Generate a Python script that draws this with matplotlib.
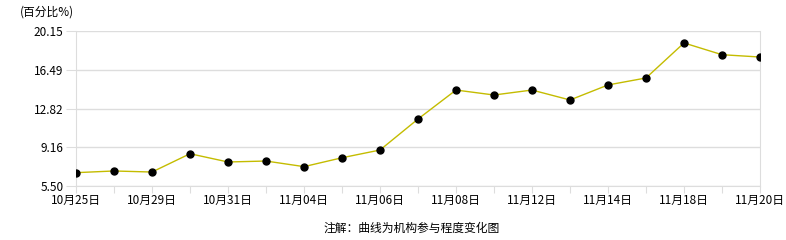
import matplotlib
matplotlib.use("Agg")
import matplotlib.pyplot as plt
import numpy as np

plt.rcParams['font.family'] = ['Noto Sans CJK SC', 'DejaVu Sans']

dates = ["10月25日", "10月28日", "10月29日", "10月30日", "10月31日", "11月01日",
         "11月04日", "11月05日", "11月06日", "11月07日", "11月08日", "11月11日",
         "11月12日", "11月13日", "11月14日", "11月15日", "11月18日", "11月19日",
         "11月20日"]
values = [6.76, 6.92, 6.82, 8.55, 7.77, 7.86, 7.33, 8.17, 8.90, 11.83, 14.57,
          14.10, 14.57, 13.63, 15.05, 15.71, 19.02, 17.91, 17.69]
yticks = [5.50, 9.16, 12.82, 16.49, 20.15]

fig = plt.figure(figsize=(7.86, 2.40), dpi=100)
ax = fig.add_axes([76 / 786, 54 / 240, 684 / 786, 155 / 240])

x = np.arange(len(dates))
ax.plot(x, values, color="#c4bc00", linewidth=1.0, zorder=2)
ax.plot(x, values, "o", color="black", markersize=5, zorder=3)

ax.set_xlim(0, len(dates) - 1)
ax.set_ylim(yticks[0], yticks[-1])
ax.set_yticks(yticks)
ax.set_yticklabels([f"{v:.2f}" for v in yticks])
ax.set_xticks(x)
ax.set_xticklabels([d if i % 2 == 0 else "" for i, d in enumerate(dates)])

grid_c = "#dddddd"
ax.grid(axis="y", color=grid_c, linewidth=1.0)
ax.set_axisbelow(True)
for side in ["left", "right", "bottom"]:
    ax.spines[side].set_color(grid_c)
ax.spines["top"].set_visible(False)
ax.tick_params(axis="y", length=7, color=grid_c, labelsize=8.5, pad=2)
ax.tick_params(axis="x", length=5, color=grid_c, labelsize=8.5, pad=1)

fig.text(20 / 786, 1 - 12 / 240, "(百分比%)", fontsize=8.5, va="center", ha="left")
fig.text(412 / 786, 1 - 228 / 240, "注解：曲线为机构参与程度变化图", fontsize=8.5,
         va="center", ha="center")

fig.savefig("out.png", dpi=100)
